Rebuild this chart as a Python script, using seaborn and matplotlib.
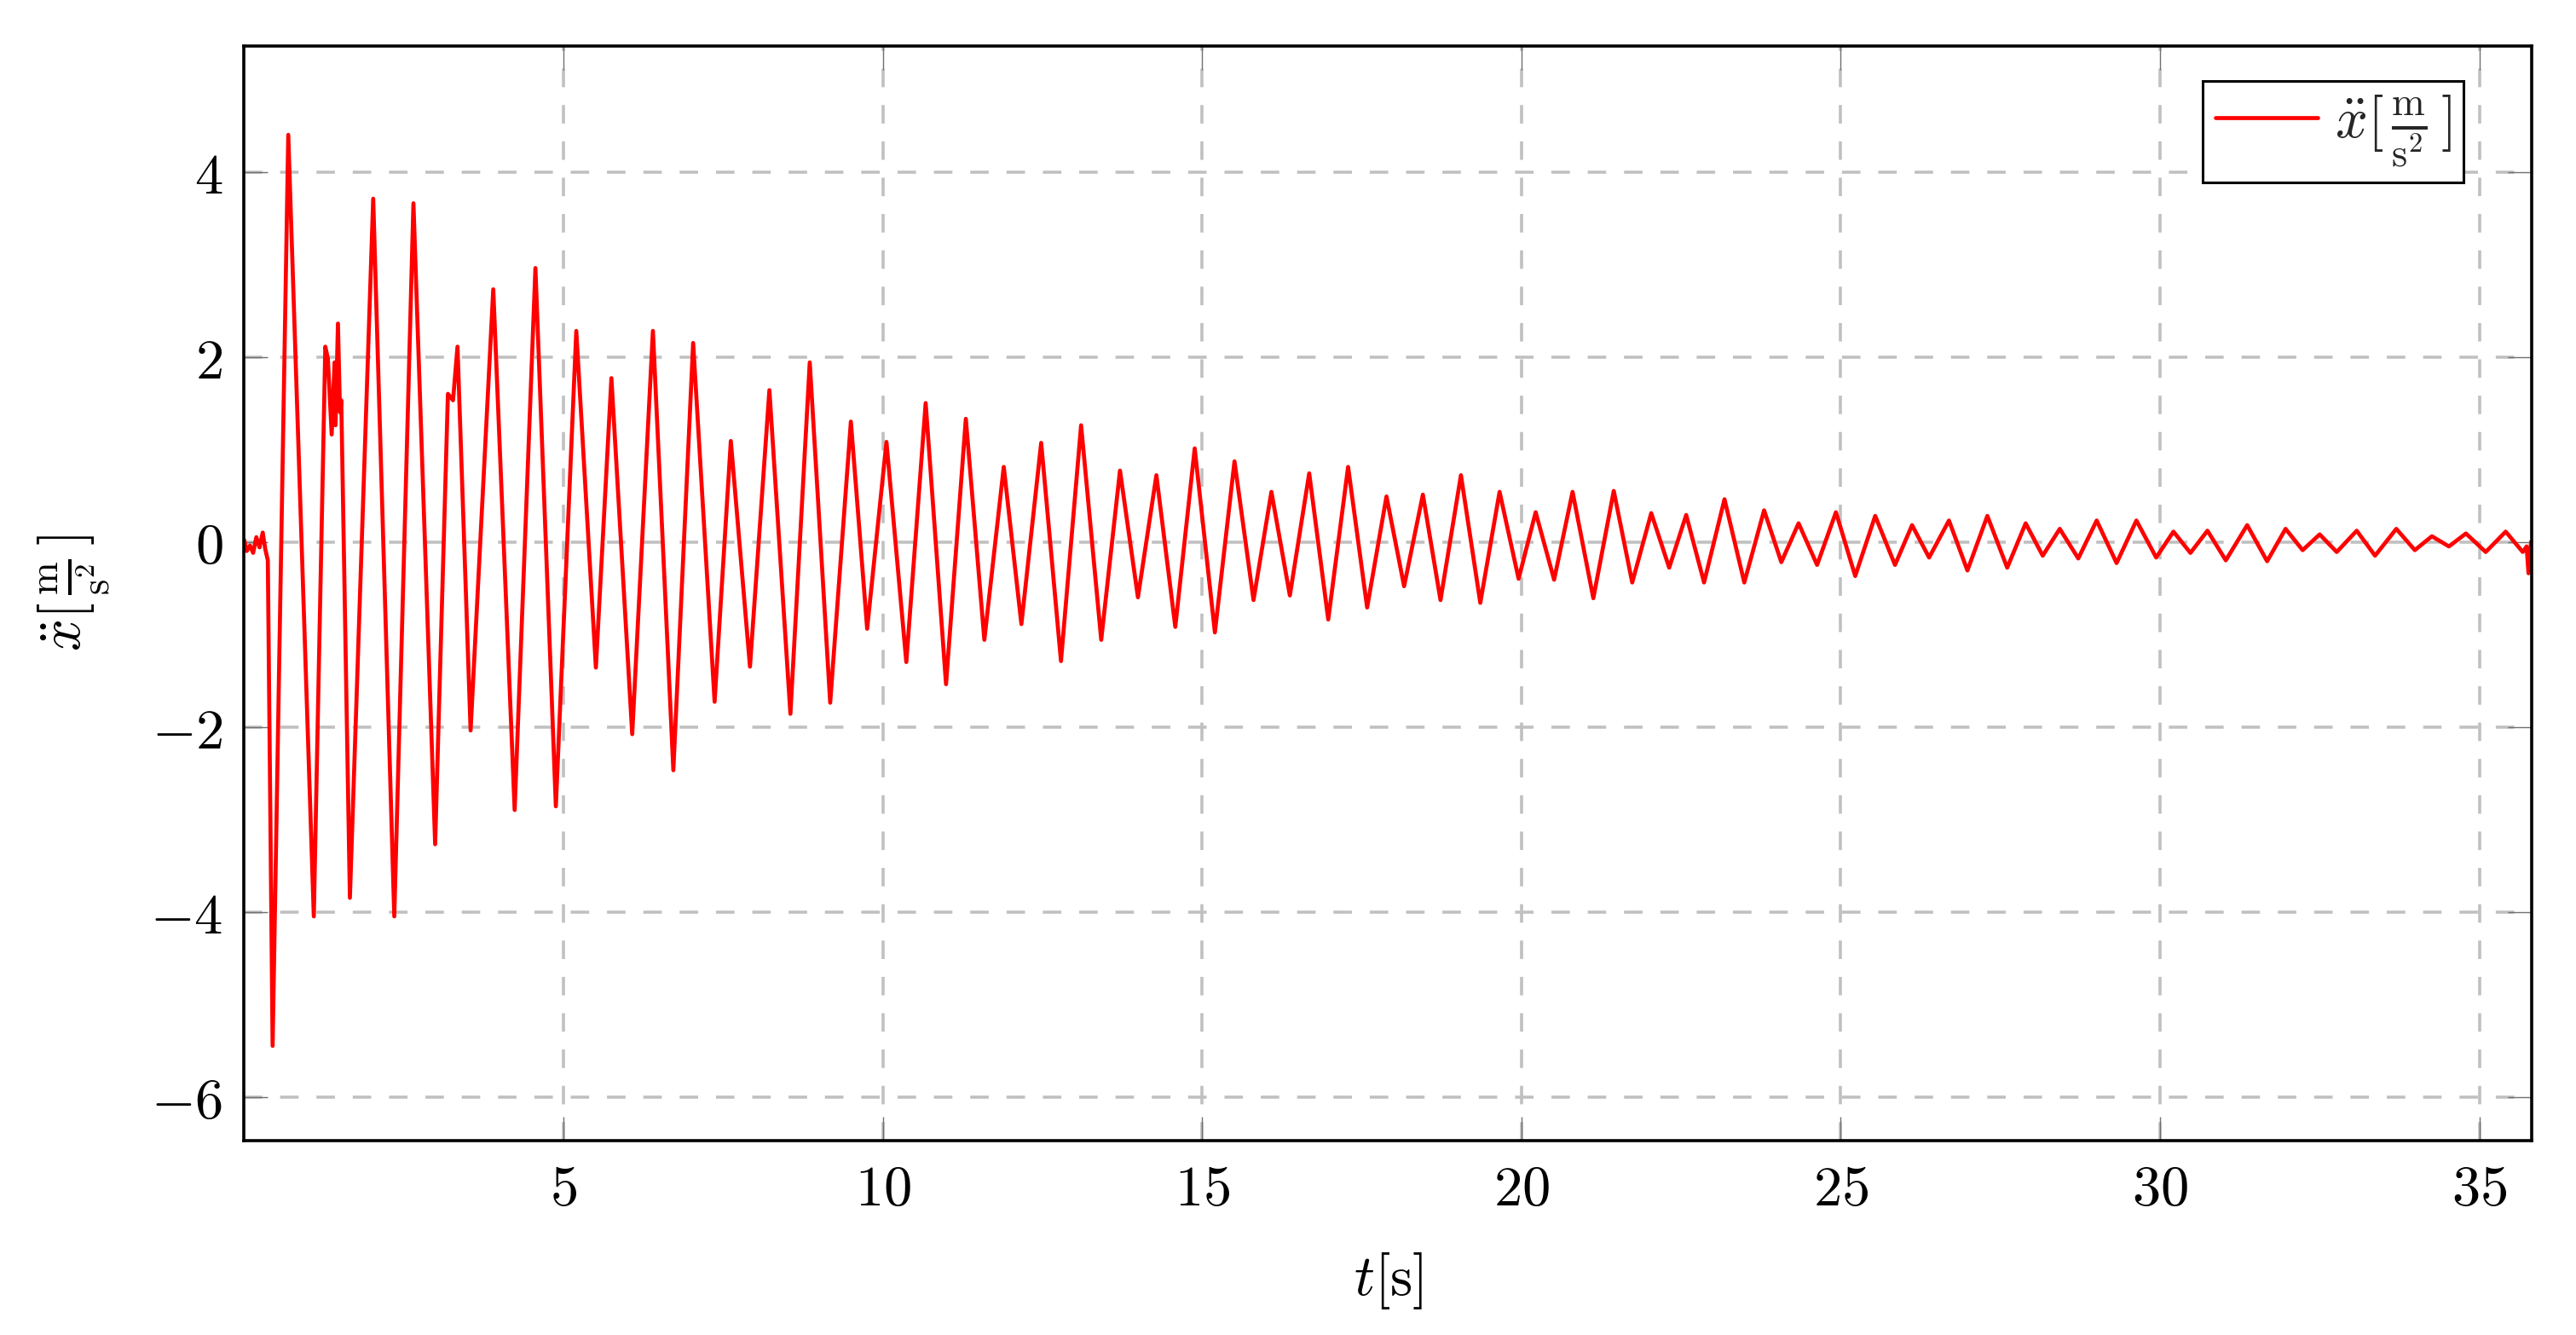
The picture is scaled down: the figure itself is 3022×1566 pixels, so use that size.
import numpy as np
import pandas as pd
import matplotlib
matplotlib.use("Agg")
import matplotlib.pyplot as plt
from matplotlib.ticker import FuncFormatter, FixedLocator
import seaborn as sns

t_start = [0.00, 0.04, 0.09, 0.14, 0.19, 0.24, 0.29, 0.33, 0.37]
a_start = [0.02, -0.10, -0.04, -0.12, 0.05, -0.06, 0.10, -0.08, -0.20]

t_early = [0.445, 0.69, 1.09, 1.27, 1.31, 1.37, 1.415, 1.43, 1.468, 1.50, 1.52,
           1.655, 2.02, 2.35, 2.65, 2.99, 3.19, 3.27, 3.34, 3.545, 3.90, 4.235,
           4.56, 4.88, 5.20, 5.507, 5.75]
a_early = [-5.45, 4.40, -4.05, 2.11, 1.98, 1.16, 1.94, 1.26, 2.36, 1.40, 1.53,
           -3.85, 3.71, -4.05, 3.66, -3.27, 1.60, 1.53, 2.11, -2.04, 2.73, -2.90,
           2.96, -2.86, 2.28, -1.36, 1.77]

t_mid = [6.076, 6.40, 6.72, 7.03, 7.366, 7.62, 7.92, 8.224, 8.553, 8.856,
         9.176, 9.50, 9.755, 10.057, 10.368, 10.671, 10.99, 11.30, 11.59, 11.894,
         12.17, 12.48, 12.79, 13.105, 13.42, 13.714, 13.995, 14.284, 14.58, 14.884,
         15.20, 15.507, 15.805, 16.085, 16.374, 16.677, 16.975, 17.286, 17.584, 17.887]
a_mid = [-2.08, 2.28, -2.47, 2.15, -1.73, 1.09, -1.35, 1.64, -1.86, 1.94,
         -1.74, 1.30, -0.94, 1.08, -1.30, 1.50, -1.54, 1.33, -1.06, 0.81,
         -0.89, 1.07, -1.29, 1.26, -1.06, 0.77, -0.60, 0.72, -0.92, 1.01,
         -0.98, 0.87, -0.63, 0.54, -0.58, 0.74, -0.84, 0.81, -0.71, 0.49]

t_late = [18.163, 18.457, 18.733, 19.053, 19.356, 19.658, 19.956, 20.223, 20.512, 20.801,
          21.126, 21.446, 21.735, 22.033, 22.314, 22.58, 22.86, 23.18, 23.49, 23.80,
          24.07, 24.34, 24.63, 24.925, 25.227, 25.54, 25.85, 26.117, 26.384, 26.695,
          26.984, 27.296, 27.607, 27.896, 28.163, 28.43, 28.72, 29.008, 29.32, 29.63,
          29.94]
a_late = [-0.48, 0.51, -0.63, 0.72, -0.66, 0.54, -0.40, 0.32, -0.41, 0.54,
          -0.61, 0.55, -0.44, 0.31, -0.28, 0.29, -0.44, 0.46, -0.44, 0.34,
          -0.22, 0.20, -0.25, 0.32, -0.37, 0.28, -0.25, 0.18, -0.17, 0.23,
          -0.31, 0.28, -0.28, 0.20, -0.15, 0.14, -0.18, 0.23, -0.23, 0.23,
          -0.17]

t_end = [30.21, 30.476, 30.743, 31.03, 31.365, 31.677, 31.966, 32.233, 32.50, 32.767,
         33.08, 33.367, 33.70, 33.99, 34.257, 34.524, 34.79, 35.10, 35.413, 35.68,
         35.74, 35.77, 35.81]
a_end = [0.11, -0.12, 0.12, -0.20, 0.18, -0.21, 0.14, -0.09, 0.08, -0.11,
         0.12, -0.15, 0.14, -0.09, 0.06, -0.05, 0.09, -0.11, 0.11, -0.11,
         -0.05, -0.34, 0.00]

x_ticks = [5, 10, 15, 20, 25, 30, 35]
y_ticks = [-6, -4, -2, 0, 2, 4]
series_label = r"$\ddot{x}[\,\frac{\mathrm{m}}{\mathrm{s}^2}\,]$"
x_label = r"$t[\mathrm{s}]$"
y_label = r"$\ddot{x}[\,\frac{\mathrm{m}}{\mathrm{s}^2}\,]$"

df = pd.DataFrame({
    "t": t_start + t_early + t_mid + t_late + t_end,
    "a": a_start + a_early + a_mid + a_late + a_end,
})

# --- style ---
sns.set_theme(style="white")
plt.rcParams["font.family"] = ["DejaVu Serif"]
plt.rcParams["mathtext.fontset"] = "cm"
plt.rcParams["axes.unicode_minus"] = True

W, H, DPI = 3022, 1566, 200
fig = plt.figure(figsize=(W / DPI, H / DPI), dpi=DPI)
ax = fig.add_axes([0.0948, 0.1459, 0.9828 - 0.0948, 0.9655 - 0.1459])

sns.lineplot(data=df, x="t", y="a", ax=ax, color="#ff0000", linewidth=1.7,
             estimator=None, sort=False, label=series_label)

ax.set_xlim(0, 35.82)
ax.set_ylim(-6.47, 5.36)
ax.xaxis.set_major_locator(FixedLocator(x_ticks))
ax.yaxis.set_major_locator(FixedLocator(y_ticks))
fmt = FuncFormatter(lambda v, _: r"$%g$" % v)
ax.xaxis.set_major_formatter(fmt)
ax.yaxis.set_major_formatter(fmt)

ax.grid(True, color="#c0c0c0", linewidth=1.3, linestyle=(0, (6.0, 5.8)))
ax.set_axisbelow(True)
ax.tick_params(axis="both", which="major", direction="in", length=10, width=0.5,
               color="#707070", labelsize=24, labelcolor="black",
               top=True, right=True, bottom=True, left=True)
ax.tick_params(axis="x", pad=9)
ax.tick_params(axis="y", pad=9)
for s in ax.spines.values():
    s.set_color("black")
    s.set_linewidth(1.3)
    s.set_visible(True)

ax.set_xlabel(x_label, fontsize=24, color="black", labelpad=14)
ax.set_ylabel(y_label, fontsize=24, color="black", labelpad=16)

leg = ax.legend(loc="upper right", bbox_to_anchor=(0.9702, 0.968), borderaxespad=0,
                fontsize=24, frameon=True, fancybox=False, handlelength=1.8,
                handletextpad=0.3, borderpad=0.22)
leg.get_frame().set_edgecolor("black")
leg.get_frame().set_linewidth(1.1)
leg.get_frame().set_alpha(1)

fig.savefig("out.png", dpi=DPI, facecolor="white")
